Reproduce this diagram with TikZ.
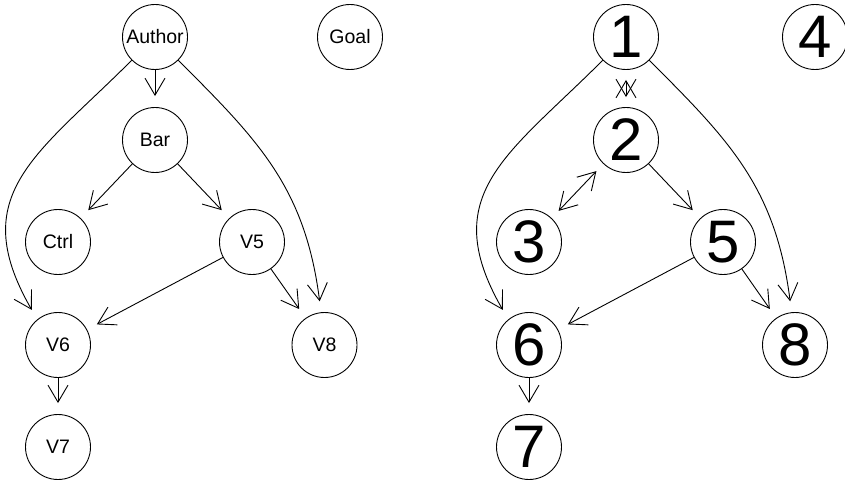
\documentclass[tikz,border=0pt]{standalone}
\usepackage{fontspec}
\setmainfont{Liberation Sans}
\usetikzlibrary{arrows.meta}
\begin{document}
\begin{tikzpicture}[x=1pt,y=-1pt,
  nd/.style={circle,draw,line width=0.9pt,minimum size=65pt,inner sep=0pt,font=\fontsize{19.5}{20}\selectfont},
  ndb/.style={nd,font=\fontsize{60}{62}\selectfont},
  barb/.tip={Straight Barb[length=17pt,width=20pt]},
  arr/.style={line width=0.9pt,-barb,shorten >=11pt},
  biarr/.style={line width=0.9pt,barb-barb,shorten >=10pt,shorten <=10pt}]
\useasboundingbox (0,0) rectangle (845,481);
% left graph
\node[nd] (Author) at (155,37) {Author};
\node[nd] (Goal) at (350,37) {Goal};
\node[nd] (Bar) at (155,140) {Bar};
\node[nd] (Ctrl) at (58,242) {Ctrl};
\node[nd] (V5) at (252,242) {V5};
\node[nd] (V6) at (58,345) {V6};
\node[nd] (V8) at (324.5,345) {V8};
\node[nd] (V7) at (58,447) {V7};
\draw[arr] (Author) -- (Bar);
\draw[arr] (Bar) -- (Ctrl);
\draw[arr] (Bar) -- (V5);
\draw[arr] (V5) -- (V6);
\draw[arr] (V5) -- (V8);
\draw[arr] (V6) -- (V7);
\draw[arr] (Author.225) .. controls +(-95,95) and +(-72,-125) .. (V6.129);
\draw[arr] (Author.-45) .. controls +(80,80) and +(-16,-125) .. (V8.96);
% right graph
\node[ndb] (n1) at (626,37) {1};
\node[ndb] (n4) at (815,37) {4};
\node[ndb] (n2) at (626,140) {2};
\node[ndb] (n3) at (529,242) {3};
\node[ndb] (n5) at (723,242) {5};
\node[ndb] (n6) at (529,345) {6};
\node[ndb] (n8) at (795,345) {8};
\node[ndb] (n7) at (529,447) {7};
\draw[biarr] (n1) -- (n2);
\draw[biarr] (n2) -- (n3);
\draw[arr] (n2) -- (n5);
\draw[arr] (n5) -- (n6);
\draw[arr] (n5) -- (n8);
\draw[arr] (n6) -- (n7);
\draw[arr] (n1.225) .. controls +(-95,95) and +(-72,-125) .. (n6.129);
\draw[arr] (n1.-45) .. controls +(80,80) and +(-16,-125) .. (n8.96);
\end{tikzpicture}
\end{document}
